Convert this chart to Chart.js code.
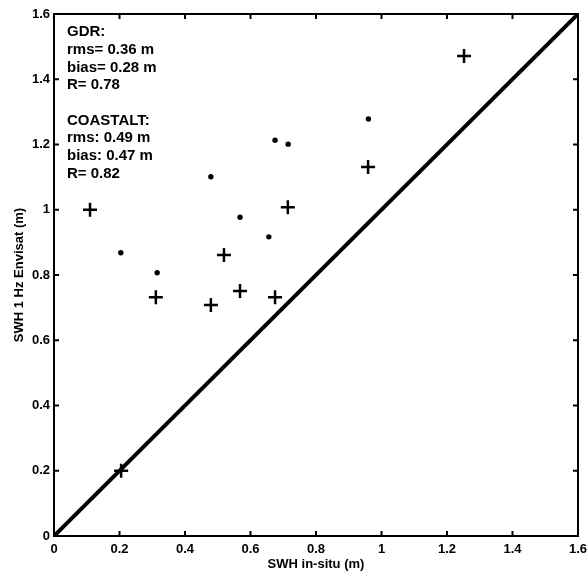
<!DOCTYPE html>
<html>
<head>
<meta charset="utf-8">
<script src="https://cdn.jsdelivr.net/npm/chart.js@4.4.0/dist/chart.umd.min.js"></script>
<style>
  html, body { margin: 0; padding: 0; background: #fff; }
  #wrap { width: 588px; height: 572px; }
</style>
</head>
<body>
<div id="wrap"><canvas id="chart"></canvas></div>
<script>
// GDR points (dots)
const gdrX = [0.204, 0.315, 0.479, 0.568, 0.656, 0.675, 0.715, 0.960];
const gdrY = [0.868, 0.807, 1.101, 0.977, 0.917, 1.213, 1.201, 1.278];
// COASTALT points (crosses)
const coastX = [0.110, 0.205, 0.311, 0.479, 0.519, 0.568, 0.675, 0.714, 0.959, 1.252];
const coastY = [1.000, 0.200, 0.732, 0.708, 0.861, 0.751, 0.732, 1.008, 1.131, 1.471];
// 1:1 line ends
const diagX = [0, 1.6];
const diagY = [0, 1.6];
const axisMin = 0, axisMax = 1.6, axisStep = 0.2;
const statsText = [
  'GDR:', 'rms= 0.36 m', 'bias= 0.28 m', 'R= 0.78', '',
  'COASTALT:', 'rms: 0.49 m', 'bias: 0.47 m', 'R= 0.82'
];

const FONT = '"Liberation Sans", Arial, sans-serif';
const toPts = (xs, ys) => xs.map((x, i) => ({x: x, y: ys[i]}));
const fmt = v => String(+v.toFixed(1));

// matlab style box with inward ticks on all sides + stats text
const boxPlugin = {
  id: 'box',
  afterDraw(chart) {
    const ctx = chart.ctx, a = chart.chartArea;
    const xs = chart.scales.x, ys = chart.scales.y;
    ctx.save();
    ctx.strokeStyle = '#000';
    ctx.lineWidth = 2;
    ctx.strokeRect(a.left, a.top, a.right - a.left, a.bottom - a.top);
    ctx.beginPath();
    for (let v = axisMin; v <= axisMax + 1e-9; v += axisStep) {
      const px = xs.getPixelForValue(v);
      ctx.moveTo(px, a.bottom); ctx.lineTo(px, a.bottom - 5);
      ctx.moveTo(px, a.top); ctx.lineTo(px, a.top + 5);
      const py = ys.getPixelForValue(v);
      ctx.moveTo(a.left, py); ctx.lineTo(a.left + 5, py);
      ctx.moveTo(a.right, py); ctx.lineTo(a.right - 5, py);
    }
    ctx.stroke();

    ctx.fillStyle = '#000';
    ctx.font = 'bold 15px ' + FONT;
    ctx.textBaseline = 'middle';
    ctx.textAlign = 'left';
    statsText.forEach((t, i) => {
      ctx.fillText(t, a.left + 13, a.top + 18 + i * 17.7);
    });
    ctx.restore();
  }
};

new Chart(document.getElementById('chart'), {
  type: 'scatter',
  data: {
    datasets: [
      {
        label: 'GDR',
        data: toPts(gdrX, gdrY),
        pointStyle: 'circle',
        pointRadius: 2.7,
        backgroundColor: '#000',
        borderColor: '#000',
        borderWidth: 0
      },
      {
        label: 'COASTALT',
        data: toPts(coastX, coastY),
        pointStyle: 'cross',
        pointRadius: 7,
        borderColor: '#000',
        borderWidth: 2.5
      },
      {
        type: 'line',
        label: '1:1',
        data: toPts(diagX, diagY),
        borderColor: '#000',
        borderWidth: 4,
        pointRadius: 0,
        fill: false
      }
    ]
  },
  options: {
    responsive: true,
    maintainAspectRatio: false,
    animation: false,
    layout: { padding: { top: 14, right: 10, left: 0, bottom: 0 } },
    plugins: {
      legend: { display: false },
      tooltip: { enabled: false }
    },
    scales: {
      x: {
        type: 'linear',
        min: axisMin, max: axisMax,
        grid: { display: false, drawTicks: false },
        border: { display: false },
        ticks: {
          stepSize: axisStep, padding: 6, color: '#000',
          font: { family: FONT, size: 13, weight: 'bold' },
          callback: fmt, maxRotation: 0
        },
        title: {
          display: true, text: 'SWH in-situ (m)', color: '#000',
          font: { family: FONT, size: 13, weight: 'bold' },
          padding: { top: 0, bottom: 0 }
        },
        afterFit(s) { s.height = 36; s.paddingLeft = 0; s.paddingRight = 0; }
      },
      y: {
        type: 'linear',
        min: axisMin, max: axisMax,
        grid: { display: false, drawTicks: false },
        border: { display: false },
        ticks: {
          stepSize: axisStep, padding: 4, color: '#000',
          font: { family: FONT, size: 13, weight: 'bold' },
          callback: fmt
        },
        title: {
          display: true, text: 'SWH 1 Hz Envisat (m)', color: '#000',
          font: { family: FONT, size: 13, weight: 'bold' },
          padding: { top: 12, bottom: 12 }
        },
        afterFit(s) { s.width = 54; s.paddingTop = 0; s.paddingBottom = 0; }
      }
    }
  },
  plugins: [boxPlugin]
});
</script>
</body>
</html>
